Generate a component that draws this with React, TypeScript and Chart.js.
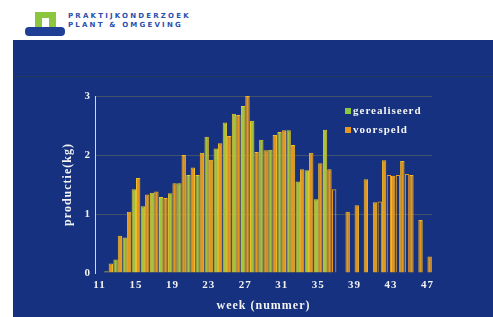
import React, { useEffect, useRef } from "react";
import { Chart, registerables } from "chart.js";

Chart.register(...registerables);

// Weeks 11..47
const weeks = [
  "11", "12", "13", "14", "15", "16", "17", "18", "19", "20",
  "21", "22", "23", "24", "25", "26", "27", "28", "29", "30",
  "31", "32", "33", "34", "35", "36", "37", "38", "39", "40",
  "41", "42", "43", "44", "45", "46", "47",
];

// productie (kg) per week
const gerealiseerd = [
  null, 0.03, 0.23, 0.6, 1.42, 1.13, 1.36, 1.29, 1.35, 1.52,
  1.66, 1.66, 2.31, 2.11, 2.55, 2.7, 2.83, 2.58, 2.26, 2.09,
  2.39, 2.42, 1.55, 1.74, 1.25, 2.43, null, null, null, null,
  null, null, null, null, null, null, null,
];

const voorspeld = [
  null, 0.16, 0.63, 1.04, 1.61, 1.33, 1.38, 1.27, 1.52, 2.0,
  1.79, 2.04, 1.92, 2.2, 2.32, 2.68, 3.0, 2.05, 2.08, 2.34,
  2.42, 2.17, 1.76, 2.04, 1.86, 1.76, null, 1.04, 1.15, 1.59,
  1.2, 1.91, 1.65, 1.9, 1.66, 0.9, 0.28,
];

// hollow (outlined only) bars in the later weeks
const omlijnd = [
  null, null, null, null, null, null, null, null, null, null,
  null, null, null, null, null, null, null, null, null, null,
  null, null, null, null, null, null, 1.42, null, null, null,
  null, 1.21, 1.66, 1.66, 1.68, null, null,
];

const yTicks = [0, 1, 2, 3];
const legendLabels = ["gerealiseerd", "voorspeld"];

const GREEN = "#a2c43e";
const GREEN_BORDER = "#e8c82c";
const ORANGE = "#e4961e";
const ORANGE_BORDER = "#f0bc2a";
const PANEL = "#15317f";

const inlineLegend = {
  id: "inlineLegend",
  beforeDraw(chart: any) {
    chart.ctx.letterSpacing = "1px";
  },
  afterDraw(chart: any) {
    const { ctx, chartArea } = chart;
    const colors = ["#8dc63f", ORANGE];
    ctx.save();
    ctx.letterSpacing = "1px";
    ctx.font = "bold 11px 'Liberation Serif', serif";
    ctx.textBaseline = "middle";
    ctx.textAlign = "left";
    const x0 = chartArea.right - 87;
    const y0 = chartArea.top + 15;
    legendLabels.forEach((lab, i) => {
      const y = y0 + i * 19;
      ctx.fillStyle = colors[i];
      ctx.fillRect(x0, y - 3, 6, 6);
      ctx.fillStyle = "#f4f4f4";
      ctx.fillText(lab, x0 + 8, y);
    });
    ctx.restore();
  },
};

function BarChart() {
  const ref = useRef<HTMLCanvasElement | null>(null);
  useEffect(() => {
    if (!ref.current) return;
    const chart = new Chart(ref.current, {
      type: "bar",
      data: {
        labels: weeks,
        datasets: [
          {
            label: legendLabels[0],
            data: gerealiseerd,
            backgroundColor: GREEN,
            borderColor: GREEN_BORDER,
            borderWidth: 1,
            stack: "a",
            barPercentage: 1,
            categoryPercentage: 0.96,
          },
          {
            label: legendLabels[1],
            data: voorspeld,
            backgroundColor: ORANGE,
            borderColor: ORANGE_BORDER,
            borderWidth: 1,
            stack: "b",
            barPercentage: 1,
            categoryPercentage: 0.96,
          },
          {
            label: "omlijnd",
            data: omlijnd,
            backgroundColor: "rgba(0,0,0,0)",
            borderColor: "#e39a1e",
            borderWidth: 1,
            stack: "a",
            barPercentage: 1,
            categoryPercentage: 0.96,
          },
        ],
      },
      options: {
        animation: false,
        responsive: false,
        maintainAspectRatio: false,
        layout: { padding: { left: 44, right: 61, top: 56, bottom: 0 } },
        plugins: {
          legend: { display: false },
          tooltip: { enabled: false },
        },
        scales: {
          x: {
            afterFit: (s: any) => {
              s.height = 44;
            },
            grid: { display: false, drawTicks: false },
            border: { display: false },
            ticks: {
              autoSkip: false,
              maxRotation: 0,
              padding: 6,
              color: "#f2f2f2",
              font: { family: "'Liberation Serif', serif", size: 11, weight: "bold" },
              callback: (_v: any, i: number) =>
                (Number(weeks[i]) - Number(weeks[0])) % 4 === 0 ? weeks[i] : "",
            },
            title: {
              display: true,
              text: "week (nummer)",
              color: "#f2f2f2",
              font: { family: "'Liberation Serif', serif", size: 12, weight: "bold" },
            },
          },
          y: {
            min: yTicks[0],
            max: yTicks[yTicks.length - 1],
            afterFit: (s: any) => {
              s.width = 38;
            },
            afterBuildTicks: (s: any) => {
              s.ticks = yTicks.map((v) => ({ value: v }));
            },
            grid: {
              drawTicks: false,
              color: (c: any) =>
                c.tick && c.tick.value === 0 ? "rgba(0,0,0,0)" : "rgba(140,130,80,0.4)",
            },
            border: { display: true, color: "#d6d6e0", width: 1 },
            ticks: {
              padding: 4,
              color: "#f2f2f2",
              font: { family: "'Liberation Serif', serif", size: 11, weight: "bold" },
            },
            title: {
              display: true,
              text: "productie(kg)",
              color: "#f2f2f2",
              font: { family: "'Liberation Serif', serif", size: 12, weight: "bold" },
            },
          },
        },
      },
      plugins: [inlineLegend],
    });
    return () => chart.destroy();
  }, []);
  return <canvas ref={ref} width={480} height={277} style={{ width: 480, height: 277, display: "block" }} />;
}

export default function App() {
  return (
    <div
      style={{
        position: "fixed",
        left: 0,
        top: 0,
        width: 493,
        height: 317,
        background: "#ffffff",
        overflow: "hidden",
      }}
    >
      {/* logo */}
      <div style={{ position: "absolute", left: 35, top: 12, width: 21, height: 16, background: "#8cc63f" }} />
      <div style={{ position: "absolute", left: 42, top: 18, width: 7, height: 10, background: "#ffffff" }} />
      <div
        style={{
          position: "absolute",
          left: 25,
          top: 27,
          width: 40,
          height: 9,
          background: "#1f3f96",
          borderRadius: 4,
        }}
      />
      <div
        style={{
          position: "absolute",
          left: 68,
          top: 12,
          fontFamily: "'DejaVu Sans', sans-serif",
          fontWeight: 900,
          fontSize: 7,
          letterSpacing: 2.2,
          lineHeight: "9px",
          color: "#2a4fae",
          whiteSpace: "nowrap",
        }}
      >
        <div>PRAKTIJKONDERZOEK</div>
        <div>PLANT &amp; OMGEVING</div>
      </div>
      {/* panel */}
      <div
        style={{
          position: "absolute",
          left: 13,
          top: 40,
          width: 480,
          height: 277,
          background: PANEL,
        }}
      >
        <div
          style={{
            position: "absolute",
            left: 0,
            top: 36,
            width: 480,
            height: 1,
            background: "rgba(70,70,40,0.35)",
          }}
        />
        <div style={{ position: "absolute", left: 0, top: 0 }}>
          <BarChart />
        </div>
      </div>
    </div>
  );
}
